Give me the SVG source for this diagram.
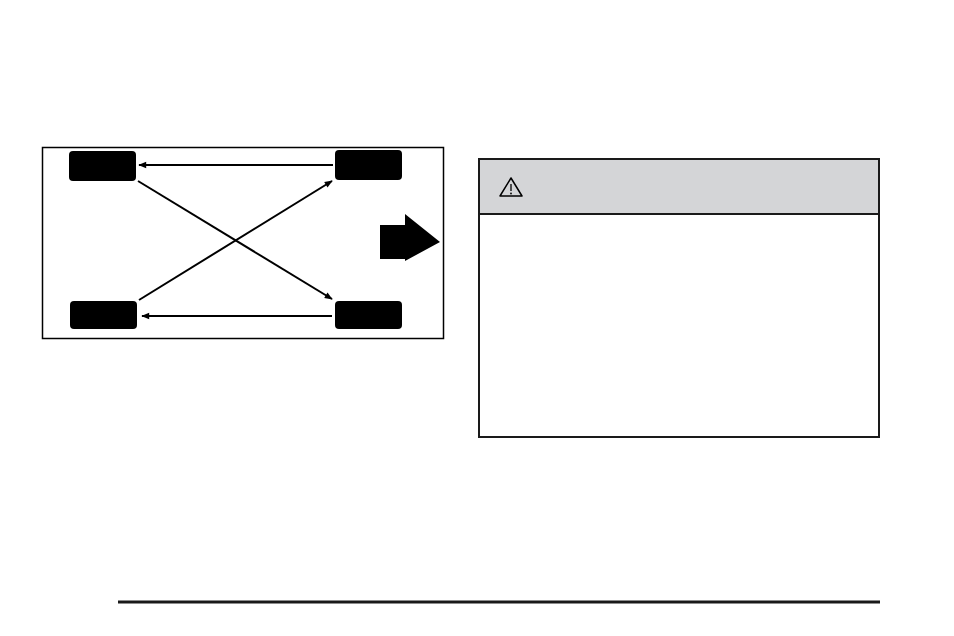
<svg xmlns="http://www.w3.org/2000/svg" width="954" height="636" viewBox="0 0 954 636">
<defs>
<style>
.tire{fill:#000}
.conn{stroke:#000;stroke-width:2;fill:none}
</style>
<marker id="ah" viewBox="0 0 10 10" refX="9" refY="5" markerWidth="9" markerHeight="8" orient="auto" markerUnits="userSpaceOnUse"><path d="M0,1 L10,5 L0,9 z" fill="#000"/></marker>
</defs>
<rect width="954" height="636" fill="#fff"/>
<rect x="42.5" y="147.5" width="401" height="191" fill="none" stroke="#000" stroke-width="1.5"/>
<g id="tire-fl"><rect class="tire" x="69" y="151" width="67" height="30" rx="4"/></g>
<g id="tire-fr"><rect class="tire" x="335" y="150" width="67" height="30" rx="4"/></g>
<g id="tire-rl"><rect class="tire" x="70" y="301" width="67" height="28" rx="4"/></g>
<g id="tire-rr"><rect class="tire" x="335" y="301" width="67" height="28" rx="4"/></g>
<g id="connectors">
<line class="conn" x1="333" y1="165" x2="139" y2="165" marker-end="url(#ah)"/>
<line class="conn" x1="332" y1="316" x2="142" y2="316" marker-end="url(#ah)"/>
<line class="conn" x1="138" y1="181" x2="332" y2="299" marker-end="url(#ah)"/>
<line class="conn" x1="139" y1="300" x2="332" y2="181" marker-end="url(#ah)"/>
</g>
<g id="direction"><path d="M380,225 H405 V214 L440,242 L405,261 V259 H380 z" fill="#000"/></g>
<g id="warning">
<rect x="479" y="159" width="400" height="55" fill="#d4d5d7"/>
<rect x="479" y="159" width="400" height="278" fill="none" stroke="#1a1a1a" stroke-width="2"/>
<line x1="479" y1="214" x2="879" y2="214" stroke="#1a1a1a" stroke-width="2"/>
<path d="M511,178 L522,196 L500,196 z" fill="none" stroke="#000" stroke-width="1.5" stroke-linejoin="round"/>
<line x1="511" y1="184" x2="511" y2="191" stroke="#000" stroke-width="1.3"/>
<circle cx="511" cy="193.5" r="0.9" fill="#000"/>
</g>
<line x1="118" y1="602" x2="880" y2="602" stroke="#1a1a1a" stroke-width="3"/>
</svg>
